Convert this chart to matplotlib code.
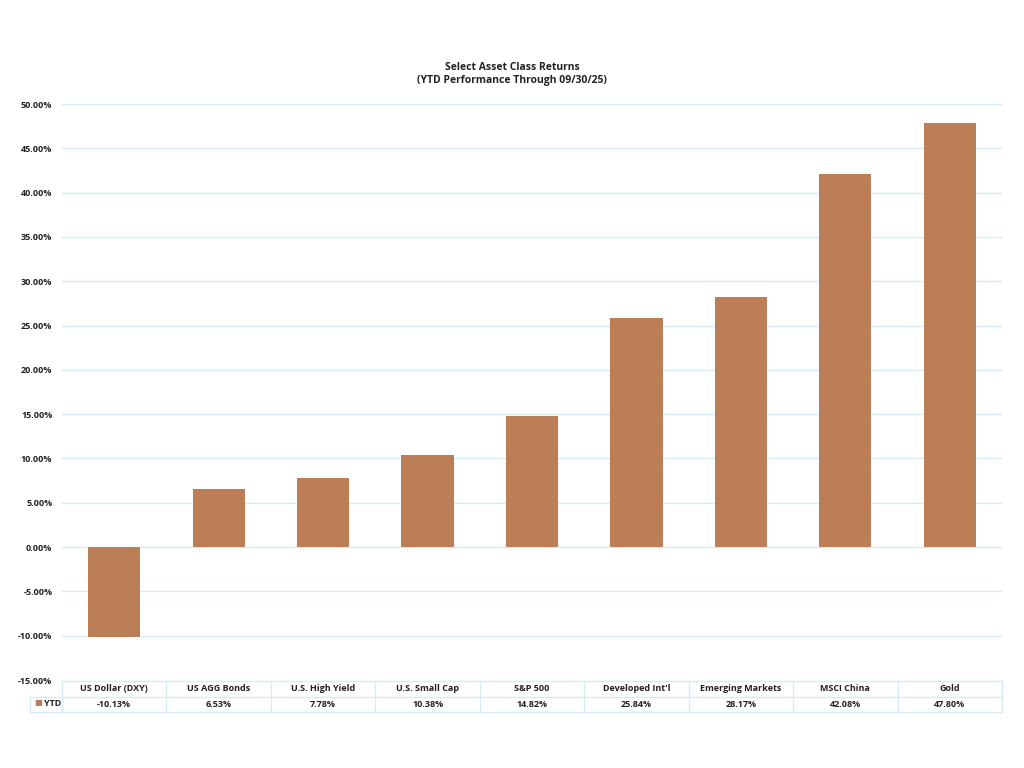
import numpy as np
import matplotlib.pyplot as plt
from matplotlib.ticker import FuncFormatter

plt.rcParams['font.family'] = ['Open Sans', 'DejaVu Sans']

categories = ["US Dollar (DXY)", "US AGG Bonds", "U.S. High Yield", "U.S. Small Cap",
              "S&P 500", "Developed Int'l", "Emerging Markets", "MSCI China", "Gold"]
ytd = [-10.13, 6.53, 7.78, 10.38, 14.82, 25.84, 28.17, 42.08, 47.80]
series_name = "YTD"

bar_color = '#BC7E57'
grid_color = '#D6ECF5'
text_color = '#222222'
W, H = 1024, 768

fig = plt.figure(figsize=(10.24, 7.68), dpi=100)
ax = fig.add_axes([62 / W, 1 - 680 / H, 940 / W, 576 / H])

x = np.arange(len(categories))
ax.bar(x, ytd, width=0.5, color=bar_color, zorder=3)
ax.set_xlim(-0.5, len(categories) - 0.5)
ax.set_ylim(-15, 50)
ax.set_yticks(np.arange(-15, 51, 5))
ax.yaxis.set_major_formatter(FuncFormatter(lambda v, p: f"{v:.2f}%"))
ax.tick_params(axis='y', length=0, pad=7, labelsize=6.5, labelcolor=text_color)
for lbl in ax.get_yticklabels():
    lbl.set_fontweight('bold')
ax.set_xticks([])
ax.grid(axis='y', color=grid_color, lw=1, zorder=0)
for s in ax.spines.values():
    s.set_visible(False)

fig.text(0.5, 1 - 67 / H, "Select Asset Class Returns", ha='center', va='center',
         fontsize=7.5, fontweight='bold', color=text_color)
fig.text(0.5, 1 - 80 / H, "(YTD Performance Through 09/30/25)", ha='center', va='center',
         fontsize=7.5, fontweight='bold', color=text_color)

# data table under the chart
tab = fig.add_axes([62 / W, 1 - 712 / H, 940 / W, 31 / H])
tab.set_xlim(-0.5, len(categories) - 0.5)
tab.set_ylim(0, 2)
tab.axis('off')
leg_x = -0.5 - 32 / (940 / len(categories))
lw = 1.0
tab.plot([-0.5, len(categories) - 0.5], [2, 2], color=grid_color, lw=lw, clip_on=False)
tab.plot([leg_x, len(categories) - 0.5], [1, 1], color=grid_color, lw=lw, clip_on=False)
tab.plot([leg_x, len(categories) - 0.5], [0, 0], color=grid_color, lw=lw, clip_on=False)
for b in np.arange(-0.5, len(categories), 1.0):
    tab.plot([b, b], [0, 2], color=grid_color, lw=lw, clip_on=False)
tab.plot([leg_x, leg_x], [0, 1], color=grid_color, lw=lw, clip_on=False)

for i, (c, v) in enumerate(zip(categories, ytd)):
    tab.text(i, 1.5, c, ha='center', va='center', fontsize=6.5, fontweight='bold', color=text_color)
    tab.text(i, 0.5, f"{v:.2f}%", ha='center', va='center', fontsize=6.5, fontweight='bold',
             color=text_color)

fig.text(34 / W, 1 - 703.5 / H, "\u25A0", color=bar_color, fontsize=6, va='center', ha='left')
fig.text(44 / W, 1 - 703.5 / H, series_name, fontsize=6.5, fontweight='bold', va='center',
         ha='left', color=text_color)

fig.savefig('out.png', dpi=100, facecolor='white')
